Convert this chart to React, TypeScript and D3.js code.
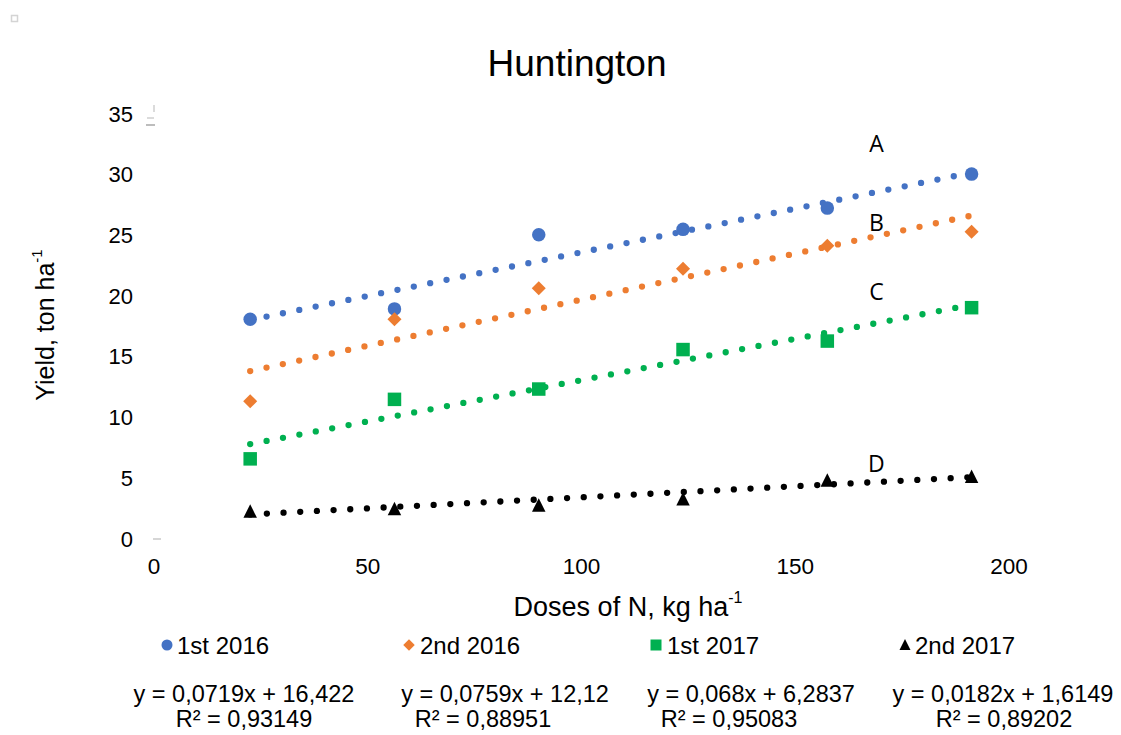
import React from "react";
import * as d3 from "d3";

const seriesNames = ["1st 2016", "2nd 2016", "1st 2017", "2nd 2017"];
const doses = [22.5, 56.25, 90, 123.75, 157.5, 191.25];
const yield1st2016 = [18.1, 18.95, 25.05, 25.5, 27.25, 30.05];
const yield2nd2016 = [11.35, 18.1, 20.65, 22.25, 24.15, 25.3];
const yield1st2017 = [6.6, 11.5, 12.35, 15.6, 16.3, 19.05];
const yield2nd2017 = [2.25, 2.45, 2.75, 3.25, 4.8, 5.12];
const slopes = [0.0719, 0.0759, 0.068, 0.0182];
const intercepts = [16.422, 12.12, 6.2837, 1.6149];
const eqLines = ["y = 0,0719x + 16,422", "y = 0,0759x + 12,12", "y = 0,068x + 6,2837", "y = 0,0182x + 1,6149"];
const r2Lines = ["R² = 0,93149", "R² = 0,88951", "R² = 0,95083", "R² = 0,89202"];
const xTicks = [0, 50, 100, 150, 200];
const yTicks = [0, 5, 10, 15, 20, 25, 30, 35];
const groupLetters = ["A", "B", "C", "D"];
const letterY = [32.6, 26.1, 20.4, 6.3];
const letterX = 169;

const colors = ["#4472C4", "#ED7D31", "#00B050", "#000000"];
const allYields = [yield1st2016, yield2nd2016, yield1st2017, yield2nd2017];

const FONT = "'Liberation Sans', Arial, sans-serif";

function marker(kind: number, x: number, y: number, s: number, color: string, key?: string) {
  if (kind === 0) return <circle key={key} cx={x} cy={y} r={s * 0.5} fill={color} />;
  if (kind === 1) {
    const h = s * 0.52;
    return <path key={key} d={`M${x},${y - h}L${x + h},${y}L${x},${y + h}L${x - h},${y}Z`} fill={color} />;
  }
  if (kind === 2) return <rect key={key} x={x - s / 2} y={y - s / 2} width={s} height={s} fill={color} />;
  const h = s * 0.5;
  return <path key={key} d={`M${x},${y - h * 1.1}L${x + h},${y + h * 0.9}L${x - h},${y + h * 0.9}Z`} fill={color} />;
}

export default function App() {
  const W = 1121, H = 735;
  const x = d3.scaleLinear().domain([0, 200]).range([154, 1009]);
  const y = d3.scaleLinear().domain([0, 35]).range([539, 114]);

  const legendMarkerX = [167, 409, 656, 905];
  const legendTextX = [177, 420, 667, 915];
  const eqCenters = [244, 505, 751, 1003];
  const r2Centers = [244, 483, 729, 1004];

  return (
    <svg width={W} height={H} style={{ position: "absolute", left: 0, top: 0, background: "#fff" }} fontFamily={FONT}>
      <rect x={0} y={0} width={W} height={H} fill="#fff" />
      {/* small artifacts */}
      <rect x={11.5} y={15.5} width={6} height={6} fill="none" stroke="#d4d4d4" strokeWidth={1.5} />
      <line x1={154} x2={154} y1={105} y2={112} stroke="#cfcfcf" strokeWidth={1.5} />
      <line x1={147} x2={154} y1={118} y2={118} stroke="#cfcfcf" strokeWidth={1.5} />
      <line x1={146} x2={155} y1={125} y2={125} stroke="#bdbdbd" strokeWidth={2} />
      <line x1={153} x2={161} y1={539} y2={539} stroke="#c8c8c8" strokeWidth={1.5} />

      <text x={577} y={63} textAnchor="middle" dominantBaseline="central" fontSize={37} fill="#000">Huntington</text>

      {yTicks.map((t) => (
        <text key={"y" + t} x={133} y={y(t)} textAnchor="end" dominantBaseline="central" fontSize={22} fill="#000">{t}</text>
      ))}
      {xTicks.map((t) => (
        <text key={"x" + t} x={x(t)} y={566} textAnchor="middle" dominantBaseline="central" fontSize={22.5} fill="#000">{t}</text>
      ))}

      <text transform={`translate(45,${325}) rotate(-90)`} textAnchor="middle" dominantBaseline="central" fontSize={25} fill="#000">
        Yield, ton ha<tspan dy={-9} fontSize={15}>-1</tspan>
      </text>
      <text x={628} y={607} textAnchor="middle" dominantBaseline="central" fontSize={27} fill="#000">
        Doses of N, kg ha<tspan dy={-10} fontSize={16}>-1</tspan>
      </text>

      {/* trendlines */}
      {slopes.map((m, i) => {
        const x0 = doses[0], x1 = doses[doses.length - 1];
        return (
          <line key={"t" + i} x1={x(x0)} y1={y(m * x0 + intercepts[i])} x2={x(x1)} y2={y(m * x1 + intercepts[i])}
            stroke={colors[i]} strokeWidth={6.3} strokeLinecap="round" strokeDasharray="0 16.7" />
        );
      })}

      {/* markers */}
      {allYields.map((ys, i) => ys.map((v, j) => marker(i, x(doses[j]), y(v), 13.5, colors[i], `m${i}-${j}`)))}

      {groupLetters.map((l, i) => (
        <text key={"l" + l} x={x(letterX)} y={y(letterY[i])} textAnchor="middle" dominantBaseline="central"
          fontSize={23} fontFamily="'Open Sans', 'DejaVu Sans', sans-serif" fill="#000">{l}</text>
      ))}

      {/* legend */}
      {seriesNames.map((n, i) => (
        <g key={"lg" + i}>
          {marker(i, legendMarkerX[i], 645, 11, colors[i])}
          <text x={legendTextX[i]} y={645} dominantBaseline="central" fontSize={24} fill="#000">{n}</text>
        </g>
      ))}

      {eqLines.map((e, i) => (
        <g key={"eq" + i}>
          <text x={eqCenters[i]} y={694} textAnchor="middle" dominantBaseline="central" fontSize={23.5} fill="#000">{e}</text>
          <text x={r2Centers[i]} y={719} textAnchor="middle" dominantBaseline="central" fontSize={23.5} fill="#000">{r2Lines[i]}</text>
        </g>
      ))}
    </svg>
  );
}
